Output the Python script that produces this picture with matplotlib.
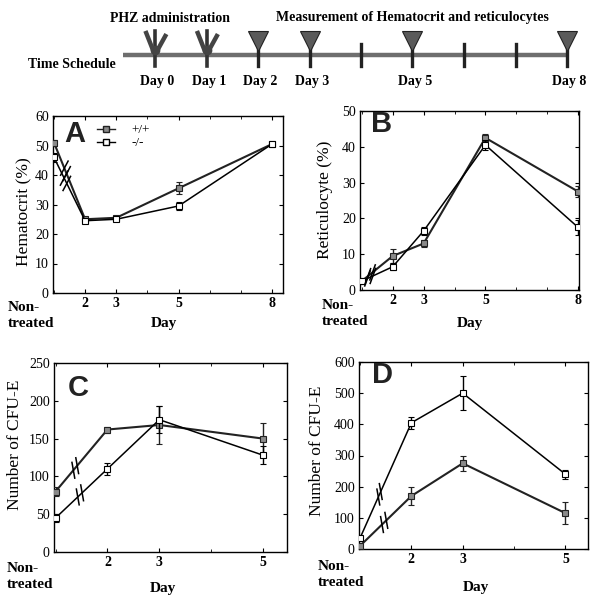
import numpy as np
import matplotlib
matplotlib.use("Agg")
import matplotlib.pyplot as plt
from matplotlib.lines import Line2D

plt.rcParams['font.family'] = ['Liberation Serif', 'DejaVu Serif']

# ---- data -------------------------------------------------------------
schedule_days = [0, 1, 2, 3, 4, 5, 6, 7, 8]
phz_days = [0, 1]
measure_days = [2, 3, 5, 8]
labelled_days = [0, 1, 2, 3, 5, 8]

NT = 1  # plotting position of the "Non-treated" point

# panel A: hematocrit (%)
hct_days = [2, 3, 5, 8]
hct_wt = [51, 25, 25.5, 35.5, 50.5]
hct_wt_err = [1.0, 0.7, 0.7, 2.0, 0.7]
hct_ko = [46, 24.5, 25, 29.5, 50.5]
hct_ko_err = [1.5, 0.7, 0.7, 1.2, 0.7]

# panel B: reticulocyte (%)
ret_days = [2, 3, 5, 8]
ret_wt = [2.5, 9.5, 13, 42.5, 27.5]
ret_wt_err = [0.5, 2.0, 1.0, 1.0, 1.5]
ret_ko = [2.5, 6.5, 16.5, 40.5, 17.5]
ret_ko_err = [0.5, 1.0, 1.0, 1.5, 2.0]

# panel C: CFU-E
cfuC_days = [2, 3, 5]
cfuC_wt = [80, 162, 168, 150]
cfuC_wt_err = [6, 4, 25, 20]
cfuC_ko = [45, 110, 175, 128]
cfuC_ko_err = [5, 8, 18, 12]

# panel D: CFU-E
cfuD_days = [2, 3, 5]
cfuD_wt = [10, 170, 275, 115]
cfuD_wt_err = [5, 30, 25, 35]
cfuD_ko = [35, 405, 500, 240]
cfuD_ko_err = [8, 20, 55, 15]

W, H = 594, 596
fig = plt.figure(figsize=(W / 100, H / 100), dpi=100)


def box(l, t, r, b):
    return [l / W, 1 - b / H, (r - l) / W, (b - t) / H]


def frac(ax_px, px, py):
    l, t, r, b = ax_px
    return (px - l) / (r - l), (b - py) / (b - t)


# ---- time schedule ----------------------------------------------------
sx = fig.add_axes([0, 1 - 95 / H, 1, 95 / H])
sx.set_xlim(-155 / 51.5, (W - 155) / 51.5)
sx.set_ylim(95, 0)
sx.axis('off')
gray = '#6e6e6e'
sx.plot([schedule_days[0] - 0.62, schedule_days[-1] + 0.04], [55, 55],
        color=gray, lw=3.2, solid_capstyle='butt', zorder=1)
for d in schedule_days:
    if d in phz_days:
        sx.plot([d, d], [31, 66], color='#333', lw=2.6, zorder=2)
        sx.plot([d - 0.17, d - 0.04], [33, 50], color='#444', lw=3.2, zorder=2)
        sx.plot([d + 0.2, d + 0.05], [36, 50], color='#444', lw=3.2, zorder=2)
        sx.plot(d, 50, marker='o', ms=6, color='#444', zorder=2)
    elif d in measure_days:
        sx.plot([d, d], [46, 66], color='#222', lw=2.4, zorder=2)
        sx.plot(d, 41, marker='v', ms=15, color='#5a5a5a', mec='#222',
                mew=0.8, zorder=3)
    else:
        sx.plot([d, d], [44, 66], color='#222', lw=2.4, zorder=2)
for d in labelled_days:
    sx.text(d + 0.05, 82, f'Day {d}', ha='center', va='center',
            fontsize=10, fontweight='bold')
sx.text(0.3, 18, 'PHZ administration', ha='center', va='center',
        fontsize=10, fontweight='bold')
sx.text(5.0, 18, 'Measurement of Hematocrit and reticulocytes',
        ha='center', va='center', fontsize=10, fontweight='bold')
sx.text(-1.61, 65, 'Time Schedule', ha='center', va='center',
        fontsize=10, fontweight='bold')


# ---- panels -----------------------------------------------------------
def breaks(ax, x, y, f, ang):
    # small "//" marks crossing the segment from the Non-treated point
    p0 = ax.transData.transform((x[0], y[0]))
    p1 = ax.transData.transform((x[1], y[1]))
    u = (p1 - p0) / np.hypot(*(p1 - p0))
    t = np.radians(ang)
    n = np.array([np.cos(t), np.sin(t)])
    m = p0 + f * (p1 - p0)
    inv = ax.transData.inverted()
    for s in (-3, 3):
        c = m + s * u
        a = inv.transform(c - 8 * n)
        b = inv.transform(c + 8 * n)
        ax.plot([a[0], b[0]], [a[1], b[1]], color='k', lw=1.1, zorder=5)


def panel(px, letter, days, wt, wt_err, ko, ko_err, xlim, ymax, ystep,
          ylabel, ylab_xy, nt_xy, day_xy, letter_xy, brk, brk_ang):
    ax = fig.add_axes(box(*px))
    x = [NT] + days
    ax.set_xlim(*xlim)
    ax.set_ylim(0, ymax)
    ax.errorbar(x, wt, yerr=wt_err, color='#222', lw=1.5, marker='s', ms=5,
                mfc='#8a8a8a', mec='#222', mew=0.8, capsize=2.5,
                elinewidth=1.0, zorder=3)
    ax.errorbar(x, ko, yerr=ko_err, color='k', lw=1.1, marker='s', ms=5,
                mfc='white', mec='k', mew=0.8, capsize=2.5,
                elinewidth=1.0, zorder=4)
    breaks(ax, x, wt, brk[0], brk_ang)
    breaks(ax, x, ko, brk[1], brk_ang)

    ax.set_yticks(np.arange(0, ymax + 1, ystep))
    ax.set_xticks(days)
    ax.set_xticklabels([str(d) for d in days], fontweight='bold')
    ax.set_xticks([d for d in range(NT, int(xlim[1]) + 1) if d not in days],
                  minor=True)
    ax.tick_params(direction='in', labelsize=10, length=3, width=0.8,
                   top=True, right=True, pad=3)
    ax.tick_params(axis='x', which='minor', direction='in', length=2,
                   top=True)
    for sp in ax.spines.values():
        sp.set_linewidth(1.0)

    ax.set_ylabel(ylabel, fontsize=12.5)
    lx, ly = frac(px, *ylab_xy)
    ax.yaxis.set_label_coords(lx, ly)

    nx, ny = frac(px, *nt_xy)
    ax.text(nx, ny, 'Non-\ntreated', transform=ax.transAxes, ha='left',
            va='top', fontsize=11, fontweight='bold', linespacing=1.3)
    dx, dy = frac(px, *day_xy)
    ax.text(dx, dy, 'Day', transform=ax.transAxes, ha='center', va='top',
            fontsize=11, fontweight='bold')
    tx, ty = frac(px, *letter_xy)
    ax.text(tx, ty, letter, transform=ax.transAxes, ha='center',
            va='center', fontsize=21, fontweight='bold',
            family='Liberation Sans', color='#222')
    return ax


axA = panel((53, 116, 283, 293), 'A', hct_days, hct_wt, hct_wt_err,
            hct_ko, hct_ko_err, (0.97, 8.35), 60, 10, 'Hematocrit (%)',
            (32, 212), (8, 301), (164, 317), (75, 134), (0.37, 0.37), 62)
axB = panel((360, 111, 579, 290), 'B', ret_days, ret_wt, ret_wt_err,
            ret_ko, ret_ko_err, (0.94, 8.03), 50, 10, 'Reticulocyte (%)',
            (333, 200), (322, 299), (470, 317), (382, 124), (0.27, 0.27), 70)
axC = panel((54, 363, 287, 552), 'C', cfuC_days, cfuC_wt, cfuC_wt_err,
            cfuC_ko, cfuC_ko_err, (0.97, 5.46), 250, 50, 'Number of CFU-E',
            (23, 445), (7, 562), (163, 582), (78, 388), (0.38, 0.47), 100)
axD = panel((359, 362, 588, 549), 'D', cfuD_days, cfuD_wt, cfuD_wt_err,
            cfuD_ko, cfuD_ko_err, (0.98, 5.44), 600, 100, 'Number of CFU-E',
            (325, 451), (318, 560), (476, 581), (382, 375), (0.47, 0.38), 100)

# legend in panel A
handles = [
    Line2D([], [], color='#222', lw=1.0, marker='s', ms=5, mfc='#8a8a8a',
           mec='#222'),
    Line2D([], [], color='k', lw=1.0, marker='s', ms=5, mfc='white',
           mec='k'),
]
lx, ly = frac((53, 116, 283, 293), 97, 124)
axA.legend(handles, ['+/+', '-/-'], loc='upper left', bbox_to_anchor=(lx, ly),
           frameon=False, fontsize=9.5, handlelength=1.4, handletextpad=1.2,
           labelspacing=0.05, borderpad=0, borderaxespad=0)

fig.savefig('out.png', dpi=100)
